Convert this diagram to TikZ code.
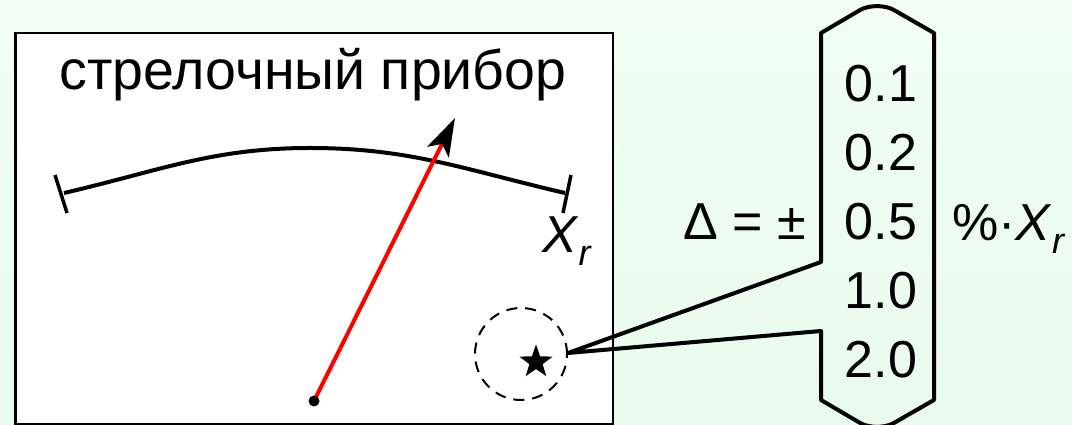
\documentclass[tikz,border=0pt]{standalone}
\usepackage{fontspec}
\setmainfont{Liberation Sans}
\usetikzlibrary{arrows.meta,shapes.geometric}
\definecolor{bgtop}{RGB}{242,254,245}
\definecolor{bgbot}{RGB}{232,251,236}
\begin{document}
\begin{tikzpicture}[x=1pt,y=1pt,
  txt/.style={font=\fontsize{52}{60}\selectfont, inner sep=0pt},
  title/.style={font=\fontsize{55.5}{60}\selectfont, inner sep=0pt},
  heavy/.style={line width=4pt},
  tickmark/.style={line width=3.5pt},
  needle/.style={red, line width=4pt, -{Stealth[length=38pt,width=24pt,inset=9pt,black]}},
  dashring/.style={dash pattern=on 11pt off 8pt, line width=2pt},
  starmark/.style={star, star points=5, star point ratio=2.5, fill=black, minimum size=35pt, inner sep=0pt}]
\useasboundingbox (0,0) rectangle (1072,425);
\shade[top color=bgtop, bottom color=bgbot] (0,0) rectangle (1072,425);
% instrument box
\draw[fill=white, line width=2.2pt] (15.5,1) rectangle (613,392);
\node[title, anchor=base] (ttl) at (313,335) {стрелочный прибор};
% scale arc
\coordinate (aL) at (64,232);
\coordinate (aP) at (310,277);
\coordinate (aR) at (565,232);
\draw[heavy] (aL) to[out=13,in=180] (aP) to[out=0,in=167] (aR);
\draw[tickmark] (55,250) -- (67,212);
\draw[tickmark] (571,250) -- (563,212);
\node[txt, anchor=base west] (xr) at (542,172) {\textit{X}\raisebox{-13pt}{\fontsize{36}{40}\selectfont\textit{r}}};
% needle
\coordinate (pivot) at (314,24);
\coordinate (tip) at (455,307);
\draw[needle] (pivot) -- (tip);
\fill (pivot) circle (5.5);
% class mark
\node[draw, dashring, circle, minimum size=92pt, inner sep=0pt] (ring) at (521,71) {};
\node[starmark] (star) at (536,63) {};
% callout bracket
\coordinate (ctip) at (568,72);
\draw[heavy, line join=round] (821,392) -- (861,415.5) .. controls (870,420) and (884,420) .. (893,415.5) -- (934,392)
  -- (934,25) -- (893,1.5) .. controls (884,-3) and (870,-3) .. (861,1.5) -- (821,25)
  -- (821,94) -- (ctip) -- (821,163) -- cycle;
\node[txt, anchor=base] (c1) at (881,323) {0.1};
\node[txt, anchor=base] (c2) at (881,254) {0.2};
\node[txt, anchor=base] (c5) at (881,185) {0.5};
\node[txt, anchor=base] (c10) at (881,116) {1.0};
\node[txt, anchor=base] (c20) at (881,47) {2.0};
\node[txt, anchor=base west] (delta) at (683,185) {Δ = ±};
\node[txt, anchor=base west] (unit) at (952,184) {\%·\textit{X}\raisebox{-13pt}{\fontsize{36}{40}\selectfont\textit{r}}};
\end{tikzpicture}
\end{document}
